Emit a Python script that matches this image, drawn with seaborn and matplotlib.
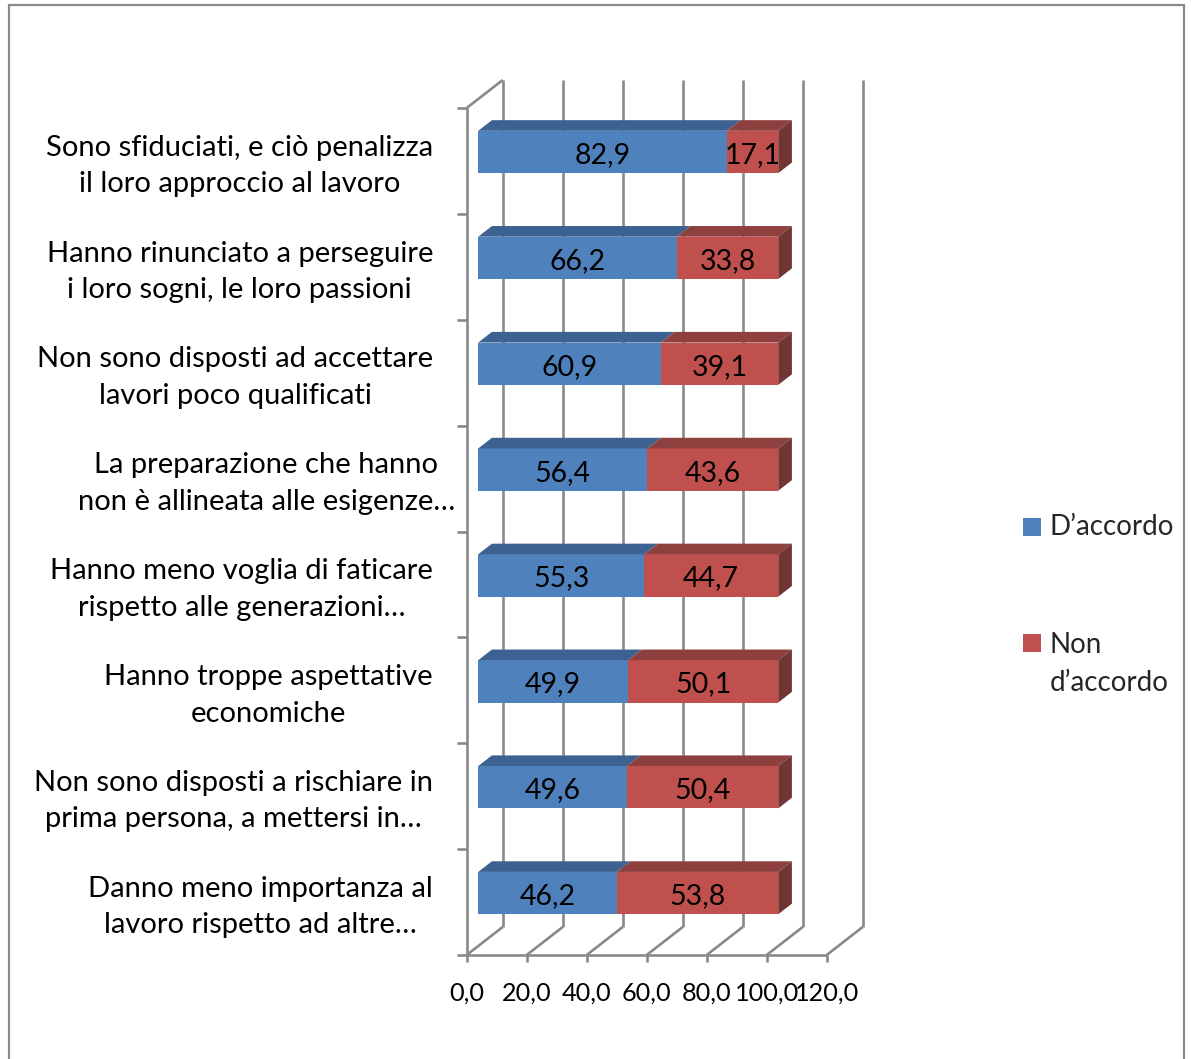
import numpy as np
import pandas as pd
import matplotlib
matplotlib.use("Agg")
import matplotlib.pyplot as plt
import matplotlib.transforms as mtransforms
from matplotlib.patches import Polygon, Rectangle
import seaborn as sns

# ---------------------------------------------------------------- data
categories = [
    "Sono sfiduciati, e ciò penalizza\nil loro approccio al lavoro",
    "Hanno rinunciato a perseguire\ni loro sogni, le loro passioni",
    "Non sono disposti ad accettare\nlavori poco qualificati",
    "La preparazione che hanno\nnon è allineata alle esigenze…",
    "Hanno meno voglia di faticare\nrispetto alle generazioni…",
    "Hanno troppe aspettative\neconomiche",
    "Non sono disposti a rischiare in\nprima persona, a mettersi in…",
    "Danno meno importanza al\nlavoro rispetto ad altre…",
]
d_accordo = [82.9, 66.2, 60.9, 56.4, 55.3, 49.9, 49.6, 46.2]
non_accordo = [17.1, 33.8, 39.1, 43.6, 44.7, 50.1, 50.4, 53.8]
series_names = ["D’accordo", "Non\nd’accordo"]
x_ticks = [0, 20, 40, 60, 80, 100, 120]
x_tick_labels = ["0,0", "20,0", "40,0", "60,0", "80,0", "100,0", "120,0"]

# ---------------------------------------------------------------- style
sns.set_theme(style="white")
plt.rcParams["font.family"] = ["Lato", "DejaVu Sans"]

BLUE = "#4F81BD"
BLUE_TOP = "#3D6190"
RED = "#C0504D"
RED_TOP = "#8D403E"
RED_SIDE = "#713533"
GRID = "#898989"

W, H = 1192, 1059
fig = plt.figure(figsize=(W / 100, H / 100), dpi=100)
ax = fig.add_axes([0, 0, 1, 1])

# front plane geometry (pixels): value 0 at x=466.7, 3 px per unit,
# first category band starts at y=108, each band is ~105.9 px tall
X0_PX, PX_PER_UNIT = 466.7, 3.0
Y0_PX, CAT_PX = 108.0, 105.875
n_cat = len(categories)


def px2x(px):
    return (px - X0_PX) / PX_PER_UNIT


def py2y(py):
    return (py - Y0_PX) / CAT_PX - 0.5


# depth vector of the 3D box (back wall offset) in data units
DX = 36.0 / PX_PER_UNIT
DY = -28.0 / CAT_PX
T0, T1 = 0.32, 0.70          # bar front / back position inside the depth
BAR_H = 0.40

df = pd.DataFrame({"label": categories, "d": d_accordo, "n": non_accordo})
df["total"] = df["d"] + df["n"]

# front faces: cumulative red first, blue on top of it
sns.barplot(data=df, y="label", x="total", color=RED, width=BAR_H,
            saturation=1, orient="h", ax=ax, linewidth=0, edgecolor="none")
sns.barplot(data=df, y="label", x="d", color=BLUE, width=BAR_H,
            saturation=1, orient="h", ax=ax, linewidth=0, edgecolor="none")

front = mtransforms.Affine2D().translate(T0 * DX, T0 * DY) + ax.transData
for p in ax.patches:
    p.set_transform(front)
    p.set_zorder(4)

ax.set_xlim(px2x(0), px2x(W))
ax.set_ylim(py2y(H), py2y(0))
ax.set_axis_off()

line_kw = dict(color=GRID, lw=1.9, solid_capstyle="butt", zorder=1)
y_floor = n_cat - 0.5
y_ceil = -0.5

# back wall gridlines and floor diagonals
for v in x_ticks:
    ax.plot([v + DX, v + DX], [y_ceil + DY, y_floor + DY], **line_kw)
    ax.plot([v, v + DX], [y_floor, y_floor + DY], **line_kw)
    ax.plot([v, v], [y_floor, y_floor + 7 / CAT_PX], **line_kw)
ax.plot([0, x_ticks[-1]], [y_floor, y_floor], **line_kw)

# left wall
ax.plot([0, 0], [y_ceil, y_floor], **line_kw)
ax.plot([0, DX], [y_ceil, y_ceil + DY], **line_kw)
for k in range(n_cat + 1):
    ax.plot([-10 / PX_PER_UNIT, 0], [k - 0.5, k - 0.5], **line_kw)

# bar tops and end caps
for i, (d, n) in enumerate(zip(d_accordo, non_accordo)):
    top = i - BAR_H / 2
    bot = i + BAR_H / 2
    for x0, x1, col in [(0, d, BLUE_TOP), (d, d + n, RED_TOP)]:
        ax.add_patch(Polygon([
            (x0 + T0 * DX, top + T0 * DY), (x1 + T0 * DX, top + T0 * DY),
            (x1 + T1 * DX, top + T1 * DY), (x0 + T1 * DX, top + T1 * DY)],
            closed=True, fc=col, ec="none", zorder=4))
    xe = d + n
    ax.add_patch(Polygon([
        (xe + T0 * DX, top + T0 * DY), (xe + T1 * DX, top + T1 * DY),
        (xe + T1 * DX, bot + T1 * DY), (xe + T0 * DX, bot + T0 * DY)],
        closed=True, fc=RED_SIDE, ec="none", zorder=4))

    yc = i + T0 * DY + 3 / CAT_PX
    ax.text(d / 2 + T0 * DX, yc, f"{d:.1f}".replace(".", ","),
            ha="center", va="center", fontsize=20.5, color="black", zorder=6)
    ax.text(d + n / 2 + T0 * DX, yc, f"{n:.1f}".replace(".", ","),
            ha="center", va="center", fontsize=20.5, color="black", zorder=6)

# category labels
label_right_px = [433] * n_cat
label_right_px[3] = 455
for i, lab in enumerate(categories):
    ax.text(px2x(label_right_px[i]), i + 5 / CAT_PX, lab, ha="right",
            va="center", multialignment="center", fontsize=21,
            linespacing=1.5, color="black")

# value axis labels
for v, lab in zip(x_ticks, x_tick_labels):
    ax.text(v, py2y(993), lab, ha="center", va="center", fontsize=18.2,
            color="black")

# legend
for py_top, col in zip([518, 634], [BLUE, RED]):
    ax.add_patch(Rectangle((px2x(1023.3), py2y(py_top)),
                           17.4 / PX_PER_UNIT, 17.5 / CAT_PX,
                           fc=col, ec="none"))
ax.text(px2x(1050), py2y(527), series_names[0], ha="left", va="center",
        fontsize=20)
ax.text(px2x(1050), py2y(664), series_names[1], ha="left", va="center",
        fontsize=20, linespacing=1.55)

# chart border
fig.add_artist(Rectangle((9 / W, -0.01), (1184 - 9) / W, 1 - 5 / H + 0.01,
                         transform=fig.transFigure, fill=False,
                         ec="#8A8A8A", lw=1.6))

fig.savefig("out.png", dpi=100)
